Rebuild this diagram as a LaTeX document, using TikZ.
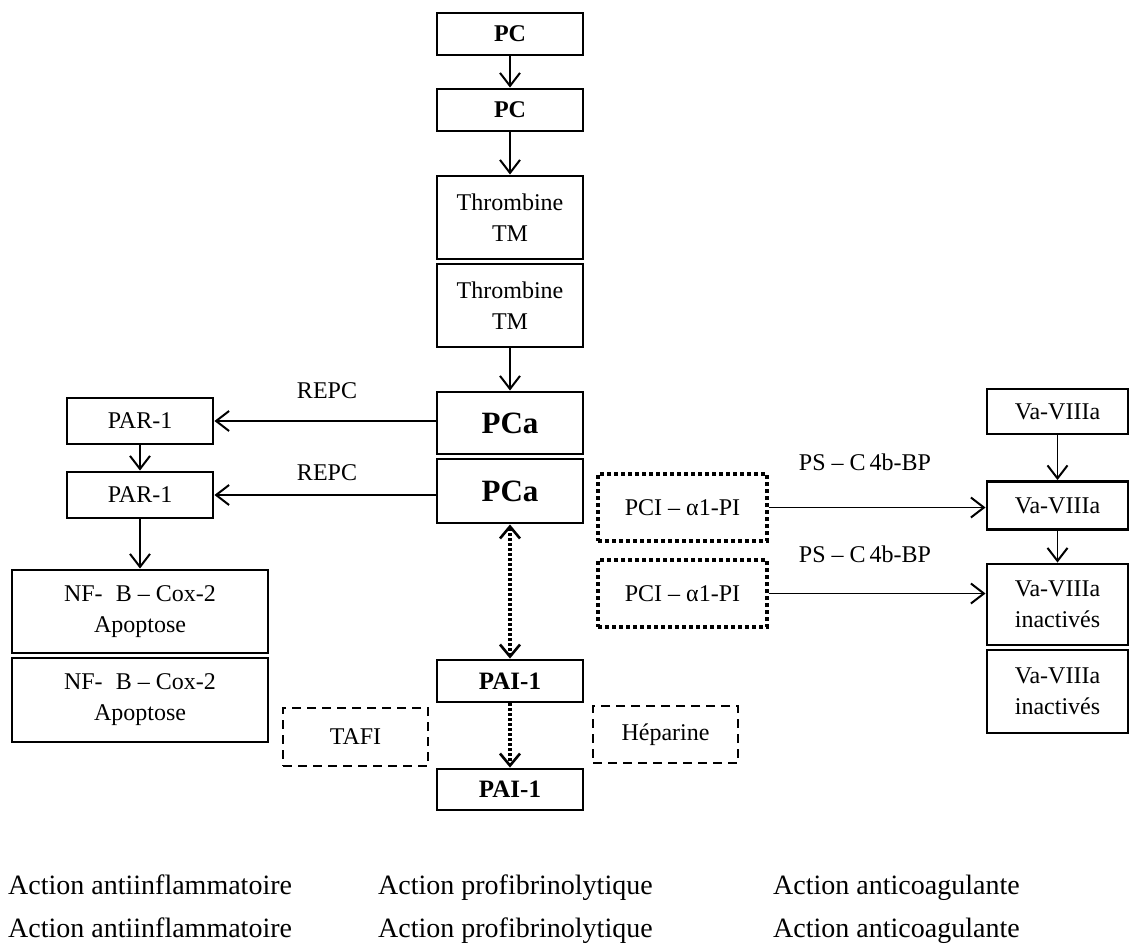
\documentclass[tikz,border=0pt]{standalone}
\usepackage{fontspec}
\setmainfont{Liberation Serif}
\usetikzlibrary{arrows.meta}
\tikzset{
  fs/.style={font=\fontsize{#1}{31}\selectfont},
  box/.style={draw, line width=2.9pt, inner sep=0pt, align=center,
    fs=24, minimum width=#1},
  box/.default=146pt,
  dbox/.style={draw, line width=2pt, dash pattern=on 9pt off 6pt, inner sep=0pt,
    fs=24, minimum width=145pt},
  pbox/.style={draw, line width=3.4pt, dash pattern=on 4pt off 3pt, inner sep=0pt,
    fs=24, minimum width=169pt, minimum height=67pt},
  tip/.style={Straight Barb[length=13pt,width=20pt,line width=2pt]},
  arr/.style={line width=1.9pt, -{Straight Barb[length=13pt,width=20pt,line width=2pt]}},
  darr/.style={line width=3.2pt, dash pattern=on 2.8pt off 2.2pt},
  lbl/.style={fs=24, inner sep=0pt},
  foot/.style={fs=28, anchor=base west, inner sep=0pt},
}
\begin{document}
\begin{tikzpicture}[x=1pt,y=-1pt]
\useasboundingbox (0,0) rectangle (1130,943);
% centre column
\node[box, minimum height=42pt] (pc1) at (510,34) {\textbf{PC}};
\node[box, minimum height=42pt] (pc2) at (510,110) {\textbf{PC}};
\node[box, minimum height=83pt] (th1) at (510,217.5) {Thrombine\\TM};
\node[box, minimum height=83pt] (th2) at (510,305.5) {Thrombine\\TM};
\node[box, minimum height=62pt, fs=31] (pca1) at (510,423) {\textbf{PCa}};
\node[box, minimum height=64pt, fs=31] (pca2) at (510,491) {\textbf{PCa}};
\node[box, minimum height=42pt, fs=25] (pai1) at (510,681) {\textbf{PAI-1}};
\node[box, minimum height=41pt, fs=25] (pai2) at (510,789.5) {\textbf{PAI-1}};
\node[dbox, minimum height=58pt] (tafi) at (355.5,737) {TAFI};
\node[dbox, minimum height=57pt] (hep) at (665.5,734.5) {Héparine};
% left column
\node[box, minimum height=46pt] (par1) at (140,421) {PAR-1};
\node[box, minimum height=46pt] (par2) at (140,495) {PAR-1};
\node[box=256pt, minimum height=83pt] (nf1) at (140,611.5) {NF-\hspace{0.55em}B – Cox-2\\Apoptose};
\node[box=256pt, minimum height=84pt] (nf2) at (140,700) {NF-\hspace{0.55em}B – Cox-2\\Apoptose};
% right column
\node[pbox] (pci1) at (682.5,507.5) {PCI – α1-PI};
\node[pbox] (pci2) at (682.5,593.5) {PCI – α1-PI};
\node[box=141pt, minimum height=45pt] (va1) at (1057.5,411.5) {Va-VIIIa};
\node[box=141pt, minimum height=48pt] (va2) at (1057.5,505.5) {Va-VIIIa};
\node[box=141pt, minimum height=81pt] (va3) at (1057.5,604.5) {Va-VIIIa\\inactivés};
\node[box=141pt, minimum height=83pt] (va4) at (1057.5,691.5) {Va-VIIIa\\inactivés};
% labels
\node[lbl] (repc1) at (327,391) {REPC};
\node[lbl] (repc2) at (327,473) {REPC};
\node[lbl] (ps1) at (865,462) {PS – C\,4b-BP};
\node[lbl] (ps2) at (865,554) {PS – C\,4b-BP};
% connectors
\draw[arr] (pc1) -- (pc2);
\draw[arr] (pc2) -- (th1);
\draw[arr] (th2) -- (pca1);
\draw[arr] (pca1.west |- par1.east) -- (par1.east);
\draw[arr] (pca2.west |- par2.east) -- (par2.east);
\draw[arr] (par1) -- (par2);
\draw[arr] (par2) -- (nf1);
\draw[darr, {Straight Barb[length=12pt,width=20pt,line width=2.6pt]}-{Straight Barb[length=12pt,width=20pt,line width=2.6pt]}] (pca2) -- (pai1);
\draw[darr, -{Straight Barb[length=12pt,width=20pt,line width=2.6pt]}] (pai1) -- (pai2);
\draw[arr] (pci1.east) -- (pci1.east -| va2.west);
\draw[arr] (pci2.east) -- (pci2.east -| va3.west);
\draw[arr] (va1) -- (va2);
\draw[arr] (va2) -- (va3);
% footer
\node[foot] (f1) at (8,894) {Action antiinflammatoire};
\node[foot] (f2) at (8,937) {Action antiinflammatoire};
\node[foot] (f3) at (378,894) {Action profibrinolytique};
\node[foot] (f4) at (378,937) {Action profibrinolytique};
\node[foot] (f5) at (773,894) {Action anticoagulante};
\node[foot] (f6) at (773,937) {Action anticoagulante};
\end{tikzpicture}
\end{document}
